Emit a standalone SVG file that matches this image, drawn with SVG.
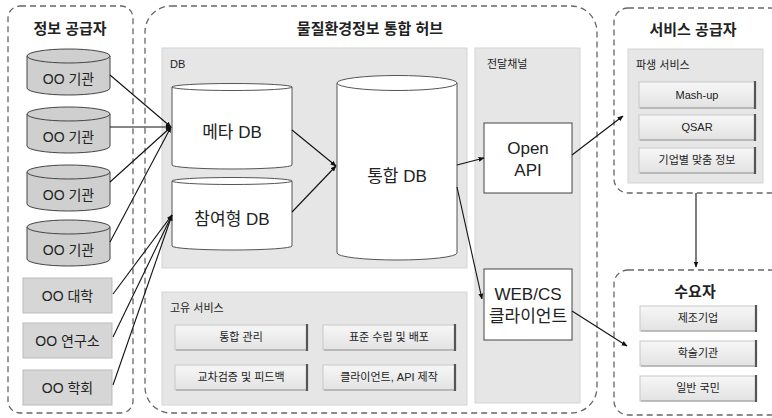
<svg xmlns="http://www.w3.org/2000/svg" width="772" height="418" viewBox="0 0 772 418">
<defs>
<style>
text{font-family:"Liberation Sans","Noto Sans CJK KR",sans-serif;fill:#222;text-anchor:middle}
.grp{fill:#fff;stroke:#666;stroke-width:1.3;stroke-dasharray:6 4}
.title{font-size:15px;font-weight:bold}
.panel{fill:#e6e6e6;stroke:#d4d4d4;stroke-width:1}
.plabel{font-size:11px;text-anchor:start}
.cylg{fill:#cfcfcf;stroke:#444;stroke-width:1}
.cylw{fill:#fff;stroke:#555;stroke-width:1}
.boxg{fill:#d6d6d6;stroke:#bbb;stroke-width:1}
.btn{fill:url(#bg);stroke:#c8c8c8;stroke-width:1}
.bsh{stroke:#555;stroke-width:2.2;fill:none}
.bbt{stroke:#9a9a9a;stroke-width:1;fill:none}
.btxt{font-size:11px}
.ln{stroke:#111;stroke-width:1.1;fill:none;marker-end:url(#ah)}
.big{font-size:17px}
.mid{font-size:14px}
</style>
<linearGradient id="bg" x1="0" y1="0" x2="0" y2="1">
<stop offset="0" stop-color="#f7f7f7"/><stop offset="1" stop-color="#e2e2e2"/>
</linearGradient>
<marker id="ah" viewBox="0 0 10 10" refX="9" refY="5" markerWidth="6" markerHeight="6" orient="auto" markerUnits="userSpaceOnUse">
<path d="M0,1 L10,5 L0,9 z" fill="#111"/>
</marker>
</defs>
<rect width="772" height="418" fill="#fff"/>

<g id="providers">
<rect class="grp" x="8" y="6" width="125" height="407" rx="12"/>
<text class="title" x="70" y="34">정보 공급자</text>
</g>
<g id="hub">
<rect class="grp" x="145" y="6" width="452" height="407" rx="26"/>
<text class="title" x="370" y="34">물질환경정보 통합 허브</text>
</g>
<g id="svcprov">
<rect class="grp" x="614" y="8" width="170" height="185" rx="14"/>
<text class="title" x="693" y="35">서비스 공급자</text>
</g>
<g id="consumers">
<rect class="grp" x="614" y="270" width="170" height="145" rx="14"/>
<text class="title" x="695" y="297">수요자</text>
</g>

<g id="db-panel">
<rect class="panel" x="162" y="48" width="305" height="220"/>
<text class="plabel" x="170" y="68">DB</text>
</g>
<g id="channel-panel">
<rect class="panel" x="475" y="48" width="105" height="355"/>
<text class="plabel" x="487" y="68">전달채널</text>
</g>
<g id="own-panel">
<rect class="panel" x="162" y="292" width="305" height="113"/>
<text class="plabel" x="170" y="312">고유 서비스</text>
</g>
<g id="derived-panel">
<rect class="panel" x="628" y="49" width="135" height="134"/>
<text class="plabel" x="636" y="69">파생 서비스</text>
</g>

<g id="inst1"><path class="cylg" d="M27,56 v32 a41.5,7 0 0 0 83,0 v-32"/><ellipse class="cylg" cx="68.5" cy="56" rx="41.5" ry="7"/><text class="mid" x="68.5" y="84">OO 기관</text></g>
<g id="inst2"><path class="cylg" d="M27,114 v32 a41.5,7 0 0 0 83,0 v-32"/><ellipse class="cylg" cx="68.5" cy="114" rx="41.5" ry="7"/><text class="mid" x="68.5" y="142">OO 기관</text></g>
<g id="inst3"><path class="cylg" d="M27,172 v32 a41.5,7 0 0 0 83,0 v-32"/><ellipse class="cylg" cx="68.5" cy="172" rx="41.5" ry="7"/><text class="mid" x="68.5" y="200">OO 기관</text></g>
<g id="inst4"><path class="cylg" d="M27,227 v32 a41.5,7 0 0 0 83,0 v-32"/><ellipse class="cylg" cx="68.5" cy="227" rx="41.5" ry="7"/><text class="mid" x="68.5" y="255">OO 기관</text></g>
<g id="univ"><rect class="boxg" x="23" y="278" width="89" height="35"/><text class="mid" x="67.5" y="301">OO 대학</text></g>
<g id="lab"><rect class="boxg" x="23" y="323" width="89" height="35"/><text class="mid" x="67.5" y="346">OO 연구소</text></g>
<g id="society"><rect class="boxg" x="23" y="370" width="89" height="35"/><text class="mid" x="67.5" y="393">OO 학회</text></g>

<g id="metadb"><path class="cylw" d="M172,87 v78 a60,4 0 0 0 120,0 v-78"/><ellipse class="cylw" cx="232" cy="87" rx="60" ry="3.5"/><text class="big" x="232" y="138">메타 DB</text></g>
<g id="partdb"><path class="cylw" d="M172,181 v65 a60,4 0 0 0 120,0 v-65"/><ellipse class="cylw" cx="232" cy="181" rx="60" ry="3.5"/><text class="big" x="232" y="225">참여형 DB</text></g>
<g id="integdb"><path class="cylw" d="M337,83 v170 a60,7 0 0 0 120,0 v-170"/><ellipse class="cylw" cx="397" cy="83" rx="60" ry="7.5"/><text class="big" x="397" y="182">통합 DB</text></g>

<g id="openapi"><rect fill="#fff" stroke="#444" stroke-width="1" x="484" y="123" width="88" height="70"/><text class="big" x="528" y="154">Open</text><text class="big" x="528" y="176">API</text></g>
<g id="webcs"><rect fill="#fff" stroke="#444" stroke-width="1" x="484" y="269" width="88" height="71"/><text class="big" x="528" y="300">WEB/CS</text><text class="big" x="528" y="322">클라이언트</text></g>

<g id="b-integ"><rect class="btn" x="175" y="325" width="132" height="25"/><path class="bbt" d="M176,350 H307"/><path class="bsh" d="M307,324 V351"/><text class="btxt" x="241" y="341">통합 관리</text></g>
<g id="b-std"><rect class="btn" x="323" y="325" width="132" height="25"/><path class="bbt" d="M324,350 H455"/><path class="bsh" d="M455,324 V351"/><text class="btxt" x="389" y="341">표준 수립 및 배포</text></g>
<g id="b-cross"><rect class="btn" x="175" y="365" width="132" height="25"/><path class="bbt" d="M176,390 H307"/><path class="bsh" d="M307,364 V391"/><text class="btxt" x="241" y="381">교차검증 및 피드백</text></g>
<g id="b-client"><rect class="btn" x="323" y="365" width="132" height="25"/><path class="bbt" d="M324,390 H455"/><path class="bsh" d="M455,364 V391"/><text class="btxt" x="389" y="381">클라이언트, API 제작</text></g>

<g id="b-mash"><rect class="btn" x="639" y="82" width="116" height="26"/><path class="bbt" d="M640,108 H755"/><path class="bsh" d="M755,81 V109"/><text class="btxt" x="697" y="99">Mash-up</text></g>
<g id="b-qsar"><rect class="btn" x="639" y="115" width="116" height="25"/><path class="bbt" d="M640,140 H755"/><path class="bsh" d="M755,114 V141"/><text class="btxt" x="697" y="131">QSAR</text></g>
<g id="b-custom"><rect class="btn" x="639" y="148" width="116" height="25"/><path class="bbt" d="M640,173 H755"/><path class="bsh" d="M755,147 V174"/><text class="btxt" x="697" y="164">기업별 맞춤 정보</text></g>

<g id="b-mfg"><rect class="btn" x="640" y="306" width="116" height="25"/><path class="bbt" d="M641,331 H756"/><path class="bsh" d="M756,305 V332"/><text class="btxt" x="698" y="322">제조기업</text></g>
<g id="b-acad"><rect class="btn" x="640" y="341" width="116" height="25"/><path class="bbt" d="M641,366 H756"/><path class="bsh" d="M756,340 V367"/><text class="btxt" x="698" y="357">학술기관</text></g>
<g id="b-public"><rect class="btn" x="640" y="376" width="116" height="25"/><path class="bbt" d="M641,401 H756"/><path class="bsh" d="M756,375 V402"/><text class="btxt" x="698" y="392">일반 국민</text></g>

<g id="connectors">
<path class="ln" d="M110,75 L171,127"/>
<path class="ln" d="M110,127 L171,127"/>
<path class="ln" d="M110,182 L171,127"/>
<path class="ln" d="M110,242 L171,127"/>
<path class="ln" d="M113,294 L172,215"/>
<path class="ln" d="M113,337 L172,215"/>
<path class="ln" d="M113,385 L172,215"/>
<path class="ln" d="M292,130 L336,166"/>
<path class="ln" d="M292,212 L336,166"/>
<path class="ln" d="M457,165 L484,158"/>
<path class="ln" d="M457,187 L482,299"/>
<path class="ln" d="M572,155 L623,116"/>
<path class="ln" d="M572,311 L627,346"/>
<path class="ln" d="M696,193 L696,267"/>
</g>
</svg>
